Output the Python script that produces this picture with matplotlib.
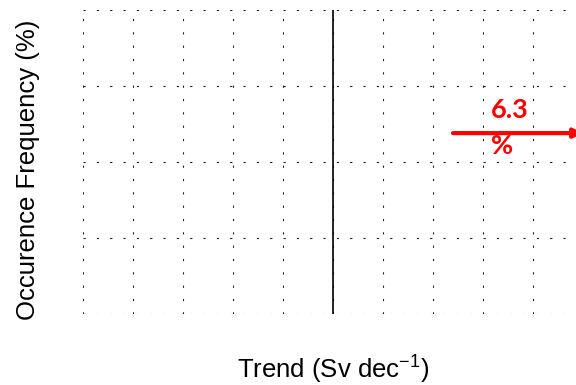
import matplotlib
matplotlib.use('Agg')
import matplotlib.pyplot as plt

# grid positions (axis units)
trend_ticks = [-1.0, -0.8, -0.6, -0.4, -0.2, 0.0, 0.2, 0.4, 0.6, 0.8, 1.0]
freq_ticks = [0, 1, 2, 3, 4]
zero_trend = 0.0
arrow_start = 0.48
arrow_end = 1.0
arrow_level = 2.38
share_label = "6.3\n%"

plt.rcParams['font.family'] = ['Liberation Sans', 'DejaVu Sans']
plt.rcParams['mathtext.fontset'] = 'custom'
plt.rcParams['mathtext.rm'] = 'Liberation Sans'
plt.rcParams['mathtext.it'] = 'Liberation Sans:italic'
plt.rcParams['mathtext.default'] = 'rm'

fig = plt.figure(figsize=(5.76, 3.85), dpi=100)
ax = fig.add_axes([83 / 576, 1 - 314 / 385, 500 / 576, 304 / 385])

ax.set_xlim(trend_ticks[0], trend_ticks[-1])
ax.set_ylim(freq_ticks[0], freq_ticks[-1])
ax.set_xticks(trend_ticks)
ax.set_yticks(freq_ticks)
ax.tick_params(length=0, labelbottom=False, labelleft=False)
for s in ax.spines.values():
    s.set_visible(False)
ax.grid(True, color='#222222', linewidth=0.8, linestyle=(0, (2, 10)))

ax.axvline(zero_trend, color='black', linewidth=1.2, zorder=3)

ax.annotate('', xy=(arrow_end, arrow_level), xytext=(arrow_start, arrow_level),
            arrowprops=dict(arrowstyle='-|>', color='red', lw=3.0,
                            mutation_scale=13, shrinkA=0, shrinkB=0),
            annotation_clip=False)
ax.text(0.63, 2.45, share_label, color='red', fontsize=19.5,
        fontweight='bold', family=['Lato', 'DejaVu Sans'],
        ha='left', va='center', linespacing=1.6)

ax.set_xlabel('Trend (Sv dec$^{-1}$)', fontsize=18.5, labelpad=29)
ax.set_ylabel('Occurence Frequency (%)', fontsize=18.5)
ax.yaxis.set_label_coords(-0.086, 0.475)

fig.savefig('out.png', dpi=100)
